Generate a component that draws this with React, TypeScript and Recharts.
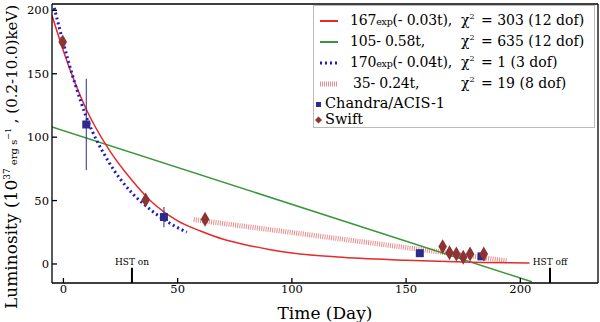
import React from 'react';
import { ComposedChart, Line, Scatter, XAxis, YAxis, ErrorBar, ReferenceLine, Legend } from 'recharts';

const SERIF = '"DejaVu Serif", serif';
const X_TICKS = [0, 50, 100, 150, 200];
const Y_TICKS = [0, 50, 100, 150, 200];

const RED = '#e42a2a';
const GREEN = '#3a963a';
const BLUE = '#1c1ccc';
const HATCH = '#e05a5a';
const NAVY = '#2b2b8c';
const BROWN = '#8c3434';

// 167exp(-0.03t) curve
const expFitAll = [
  { t: -5, L: 196 }, { t: 0, L: 168 }, { t: 10, L: 122 }, { t: 20, L: 90 },
  { t: 30, L: 66 }, { t: 38, L: 50 }, { t: 50, L: 34 }, { t: 60, L: 26 },
  { t: 70, L: 19.5 }, { t: 80, L: 15 }, { t: 90, L: 11.5 }, { t: 100, L: 8.7 },
  { t: 120, L: 5.5 }, { t: 150, L: 3 }, { t: 175, L: 1.5 }, { t: 204, L: 0.8 },
];
// 105-0.58t
const linFitAll = [{ t: -5, L: 108 }, { t: 205, L: -14 }];
// 170exp(-0.04t), early points only
const expFitEarly = [
  { t: -4, L: 202 }, { t: 0, L: 174 }, { t: 10, L: 116 }, { t: 20, L: 80 },
  { t: 30, L: 56 }, { t: 36, L: 46 }, { t: 44, L: 35 }, { t: 54, L: 25 },
];
// 35-0.24t, late points only
const linFitLate = [{ t: 57, L: 35 }, { t: 194, L: 2.5 }];

const chandra = [
  { t: 10, L: 110, err: 36 },
  { t: 44, L: 37, err: 8 },
  { t: 156, L: 8.5, err: 0 },
  { t: 183, L: 6, err: 0 },
];
const swift = [
  { t: -0.3, L: 175 }, { t: 36, L: 50.5 }, { t: 62, L: 35.3 },
  { t: 166, L: 13.7 }, { t: 169, L: 8.9 }, { t: 172, L: 7.9 },
  { t: 175, L: 5.3 }, { t: 178, L: 7.9 }, { t: 184, L: 7.9 },
];
const hst = [{ label: 'HST on', t: 30 }, { label: 'HST off', t: 213 }];

const FIT_ROWS = [
  { coef: '167', exp: true, rest: '(- 0.03t),', chi: '303 (12 dof)', color: RED, dash: undefined, w: 2, indent: 0 },
  { coef: '105', exp: false, rest: '- 0.58t,', chi: '635 (12 dof)', color: GREEN, dash: undefined, w: 2, indent: 0 },
  { coef: '170', exp: true, rest: '(- 0.04t),', chi: '1 (3 dof)', color: BLUE, dash: '2 3', w: 3, indent: 0 },
  { coef: '35', exp: false, rest: '- 0.24t,', chi: '19 (8 dof)', color: HATCH, dash: '1 1', w: 5, indent: 3 },
];

const rowText: React.CSSProperties = { position: 'absolute', top: 2, whiteSpace: 'nowrap', lineHeight: '17px' };

const LegendBox = () => (
  <div
    style={{
      width: 280, height: 121, border: '1px solid #bbb', background: '#fff',
      fontFamily: SERIF, fontSize: 14, color: '#000', position: 'relative',
    }}
  >
    {FIT_ROWS.map((r, i) => (
      <div key={i} style={{ position: 'absolute', top: 4 + i * 21, left: 0, height: 21, width: 280 }}>
        <svg width={20} height={21} style={{ position: 'absolute', left: 6, top: 0 }}>
          <line x1={0} x2={18} y1={11} y2={11} stroke={r.color} strokeWidth={r.w}
            strokeDasharray={r.dash} strokeOpacity={r.w === 5 ? 0.7 : 1} />
        </svg>
        <span style={{ ...rowText, left: 36 + r.indent, letterSpacing: -0.2 }}>
          {r.coef}
          {r.exp ? <span style={{ fontSize: 9.5 }}>exp</span> : null}
          {r.rest}
        </span>
        <span style={{ ...rowText, left: 147 }}>
          χ<span style={{ fontSize: 8, position: 'relative', top: -6 }}>2</span>
        </span>
        <span style={{ ...rowText, left: 167 }}>= {r.chi}</span>
      </div>
    ))}
    <div style={{ position: 'absolute', top: 90, left: 0, height: 16, width: 200 }}>
      <svg width={10} height={16} style={{ position: 'absolute', left: 0, top: 0 }}>
        <rect x={2} y={6} width={5} height={5} fill={NAVY} />
      </svg>
      <span style={{ ...rowText, top: -1, left: 11, fontSize: 14.5, lineHeight: '16px' }}>Chandra/ACIS-1</span>
    </div>
    <div style={{ position: 'absolute', top: 106, left: 0, height: 16, width: 200 }}>
      <svg width={10} height={16} style={{ position: 'absolute', left: 0, top: 0 }}>
        <path d="M4.5 4.5 L8 8 L4.5 11.5 L1 8 Z" fill={BROWN} />
      </svg>
      <span style={{ ...rowText, top: -1, left: 11, fontSize: 14.5, lineHeight: '16px' }}>Swift</span>
    </div>
  </div>
);

const YLabel = () => (
  <text transform="rotate(-90)" x={-157} y={17} textAnchor="middle" fontFamily={SERIF} fill="#000">
    <tspan fontSize={17}>Luminosity (10</tspan>
    <tspan fontSize={9} dy={-7}>37</tspan>
    <tspan fontSize={10} dy={7}> erg s</tspan>
    <tspan fontSize={8} dy={-6}>−1</tspan>
    <tspan fontSize={15} dy={6}> , (0.2-10.0)keV)</tspan>
  </text>
);

const tickStyle = { fontFamily: SERIF, fontSize: 11.5, fill: '#000' };

export default function App() {
  return (
    <div style={{ position: 'absolute', left: 0, top: 0, background: '#fff' }}>
      <ComposedChart width={600} height={322} margin={{ top: 3, right: 1, bottom: 0, left: 0 }}>
        <XAxis
          xAxisId="main" dataKey="t" type="number" domain={[-5, 234]} ticks={X_TICKS}
          allowDataOverflow height={39} tickSize={-5} tickMargin={7} tick={tickStyle}
          stroke="#000" strokeWidth={1.3}
          label={{ value: 'Time (Day)', position: 'insideBottom', offset: 3,
            style: { fontFamily: SERIF, fontSize: 17, fill: '#000' } }}
        />
        <XAxis
          xAxisId="top" orientation="top" dataKey="t" type="number" domain={[-5, 234]}
          ticks={X_TICKS} allowDataOverflow height={1} tickSize={-5} tick={false}
          stroke="#000" strokeWidth={1.3}
        />
        <YAxis
          yAxisId="main" dataKey="L" type="number" domain={[-15, 205]} ticks={Y_TICKS}
          allowDataOverflow width={52} tickSize={-5} tickMargin={8} tick={tickStyle}
          stroke="#000" strokeWidth={1.3} label={<YLabel />}
        />
        <YAxis
          yAxisId="right" orientation="right" dataKey="L" type="number" domain={[-15, 205]}
          ticks={Y_TICKS} allowDataOverflow width={1} tickSize={-5} tick={false}
          stroke="#000" strokeWidth={1.3}
        />
        <Legend
          layout="vertical" align="center" verticalAlign="middle"
          wrapperStyle={{ left: 313, top: 5, width: 282, height: 123 }}
          content={() => <LegendBox />}
        />
        {hst.map((h) => (
          <ReferenceLine
            key={h.label} xAxisId="main" yAxisId="main"
            segment={[{ x: h.t, y: -15 }, { x: h.t, y: -3 }]}
            stroke="#000" strokeWidth={2}
            label={{ value: h.label, position: 'top', offset: 3, fontSize: 9, fill: '#000', fontFamily: SERIF }}
          />
        ))}
        <Line xAxisId="main" yAxisId="main" data={linFitLate} dataKey="L" type="linear"
          stroke={HATCH} strokeOpacity={0.7} strokeWidth={5} strokeDasharray="1 1.2"
          dot={false} isAnimationActive={false} legendType="none" />
        <Line xAxisId="main" yAxisId="main" data={linFitAll} dataKey="L" type="linear"
          stroke={GREEN} strokeWidth={1.5} dot={false} isAnimationActive={false} />
        <Line xAxisId="main" yAxisId="main" data={expFitAll} dataKey="L" type="monotone"
          stroke={RED} strokeWidth={1.5} dot={false} isAnimationActive={false} />
        <Line xAxisId="main" yAxisId="main" data={expFitEarly} dataKey="L" type="monotone"
          stroke={BLUE} strokeWidth={3} strokeDasharray="2 3" dot={false} isAnimationActive={false} />
        <Scatter xAxisId="main" yAxisId="main" data={chandra} dataKey="L" fill={NAVY}
          shape="square" size={40} isAnimationActive={false}>
          <ErrorBar dataKey="err" direction="y" width={0} stroke={NAVY} strokeWidth={1} />
        </Scatter>
        <Scatter xAxisId="main" yAxisId="main" data={swift} dataKey="L" fill={BROWN}
          shape="diamond" size={40} isAnimationActive={false} />
      </ComposedChart>
    </div>
  );
}
